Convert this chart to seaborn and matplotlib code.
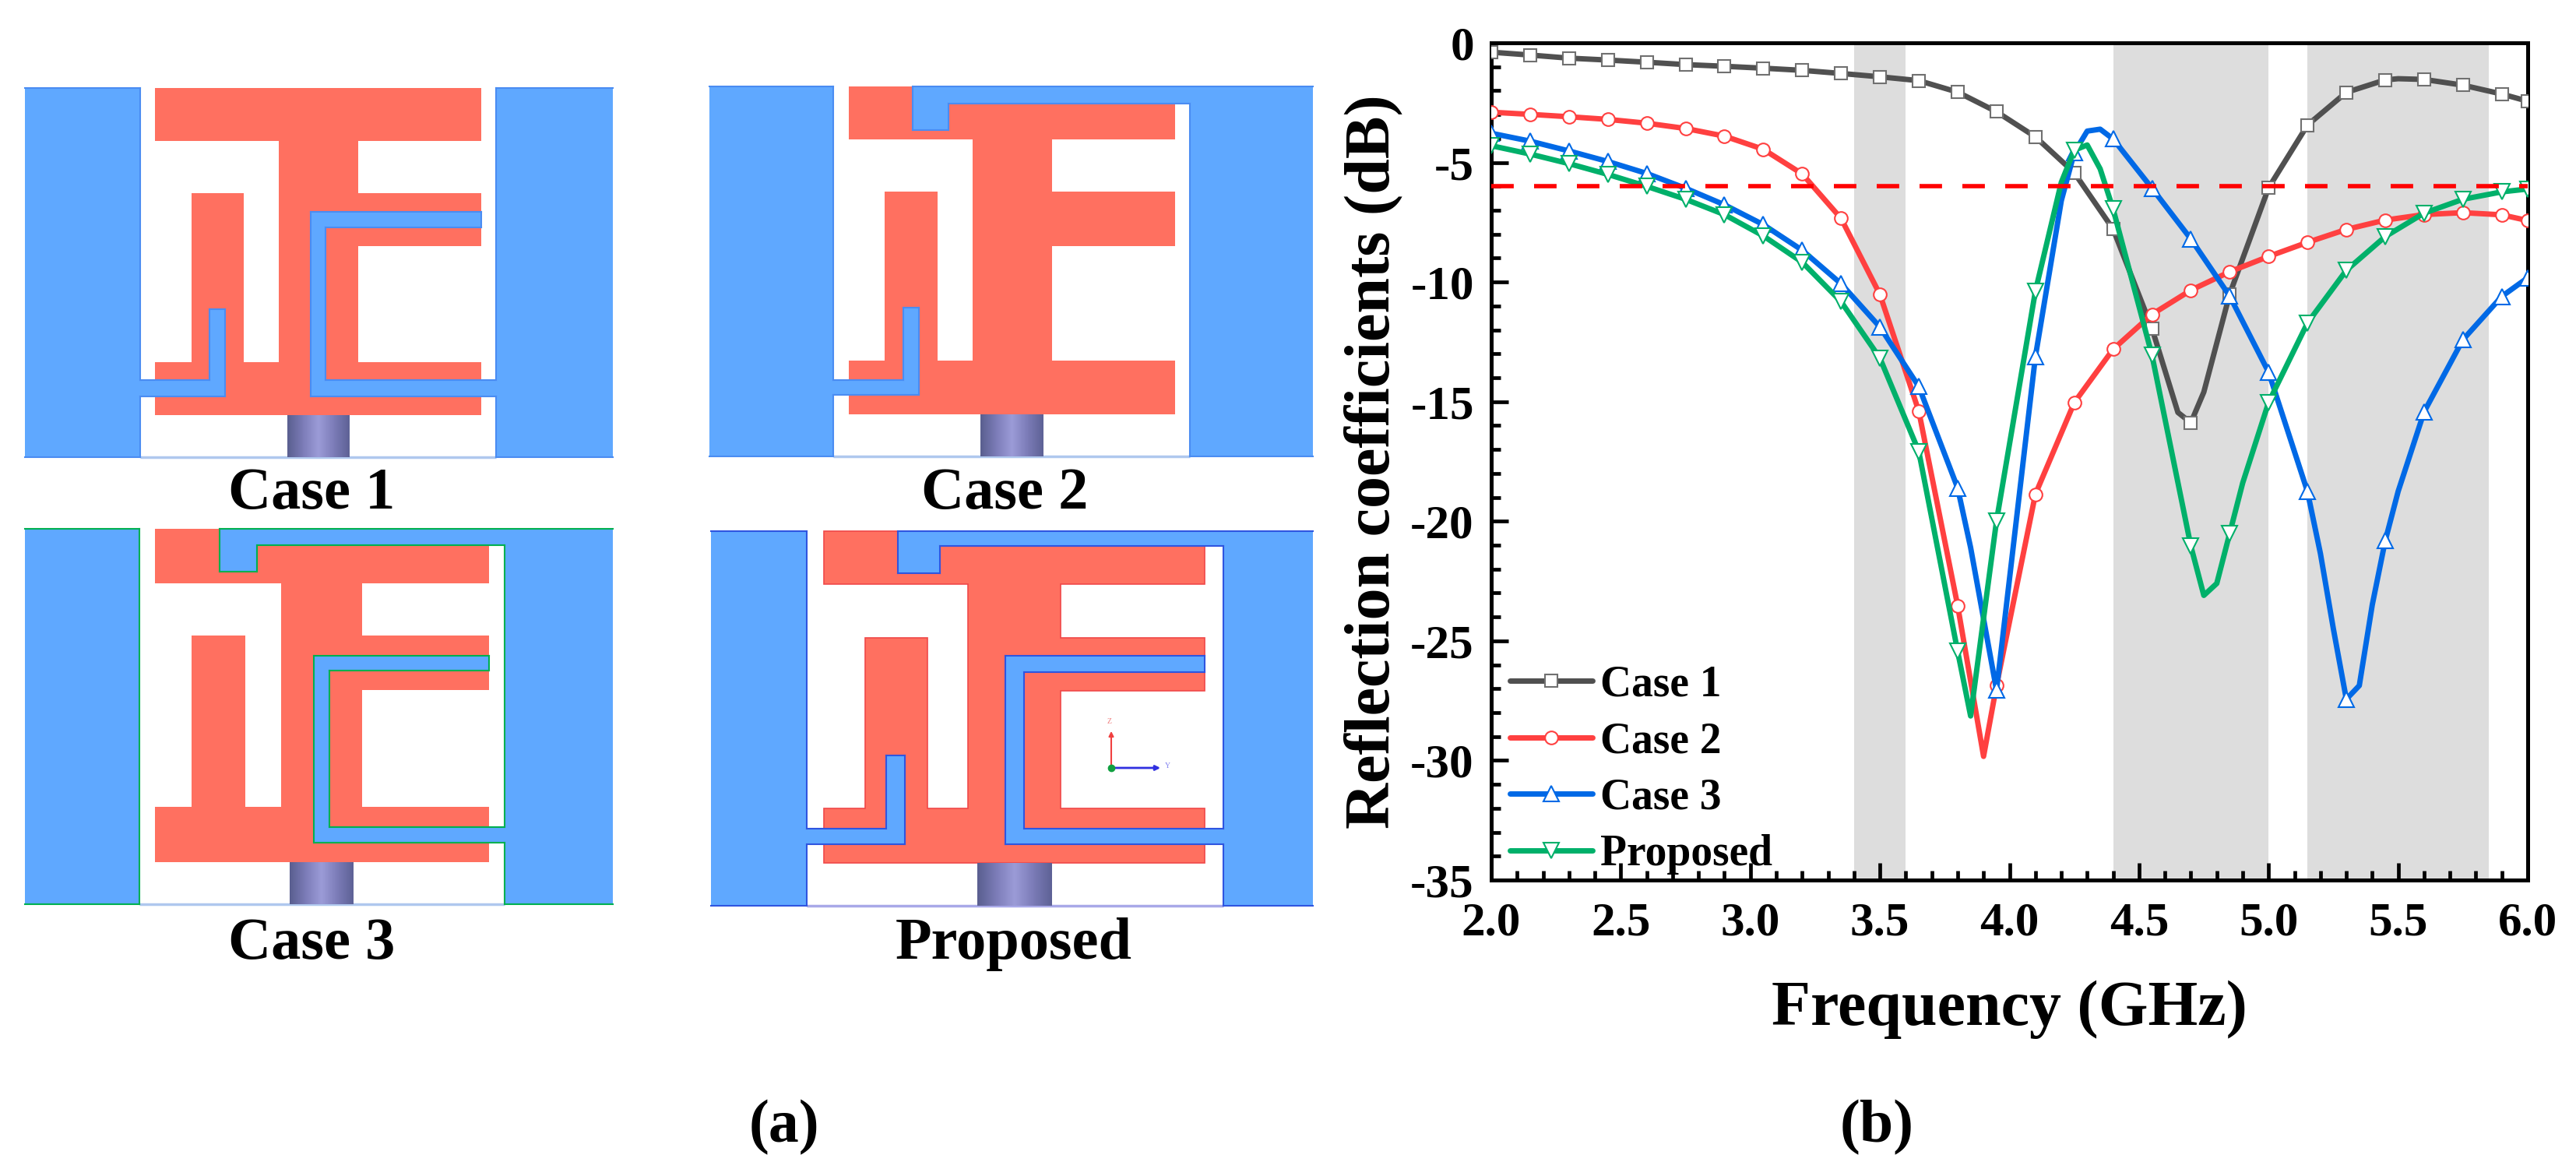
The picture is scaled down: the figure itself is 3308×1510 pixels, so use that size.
import numpy as np
import pandas as pd
import seaborn as sns
import matplotlib
matplotlib.use("Agg")
import matplotlib.pyplot as plt
from matplotlib.colors import LinearSegmentedColormap
from matplotlib.ticker import MultipleLocator

# ---------- data ----------
mark_freq = [round(2 + 0.15 * k, 2) for k in range(27)] + [6.0]

f_case1 = [2.0,2.15,2.3,2.45,2.6,2.75,2.9,3.05,3.2,3.35,3.5,3.65,3.8,3.95,4.1,4.25,4.4,4.55,4.65,4.7,4.75,4.85,5.0,5.15,5.3,5.45,5.5,5.6,5.75,5.9,6.0]
v_case1 = [-0.39,-0.51,-0.64,-0.72,-0.81,-0.91,-0.98,-1.06,-1.15,-1.28,-1.42,-1.58,-2.06,-2.88,-3.93,-5.43,-7.79,-11.94,-15.45,-15.88,-14.6,-10.5,-6.06,-3.44,-2.07,-1.55,-1.5,-1.53,-1.77,-2.14,-2.44]

f_case2 = [2.0,2.15,2.3,2.45,2.6,2.75,2.9,3.05,3.2,3.35,3.5,3.65,3.8,3.9,3.95,4.1,4.25,4.4,4.55,4.7,4.85,5.0,5.15,5.3,5.45,5.6,5.75,5.9,6.0]
v_case2 = [-2.9,-2.99,-3.09,-3.2,-3.36,-3.58,-3.9,-4.45,-5.48,-7.34,-10.52,-15.4,-23.53,-29.83,-26.87,-18.87,-15.04,-12.81,-11.35,-10.34,-9.57,-8.93,-8.34,-7.8,-7.41,-7.18,-7.1,-7.19,-7.43]

f_case3 = [2.0,2.15,2.3,2.45,2.6,2.75,2.9,3.05,3.2,3.35,3.5,3.65,3.8,3.85,3.95,4.1,4.2,4.25,4.3,4.35,4.4,4.55,4.7,4.85,5.0,5.15,5.2,5.25,5.3,5.35,5.4,5.45,5.5,5.6,5.75,5.9,6.0]
v_case3 = [-3.78,-4.11,-4.52,-4.96,-5.46,-6.08,-6.77,-7.6,-8.67,-10.07,-11.88,-14.37,-18.61,-21.1,-27.06,-13.12,-6.6,-4.59,-3.69,-3.61,-4.02,-6.08,-8.2,-10.59,-13.77,-18.76,-21.35,-24.5,-27.44,-26.87,-23.5,-20.82,-18.75,-15.43,-12.41,-10.6,-9.82]

f_prop = [2.0,2.15,2.3,2.45,2.6,2.75,2.9,3.05,3.2,3.35,3.5,3.65,3.8,3.85,3.95,4.1,4.2,4.25,4.3,4.35,4.4,4.55,4.7,4.75,4.8,4.85,4.9,5.0,5.15,5.3,5.45,5.6,5.75,5.9,6.0]
v_prop = [-4.3,-4.65,-5.05,-5.5,-6.0,-6.54,-7.18,-8.07,-9.17,-10.82,-13.18,-17.08,-25.44,-28.14,-19.98,-10.38,-5.83,-4.49,-4.27,-5.27,-6.95,-13.06,-21.04,-23.1,-22.6,-20.5,-18.4,-15.03,-11.71,-9.51,-8.1,-7.12,-6.54,-6.23,-6.11]

bands = [(3.4, 3.6), (4.4, 5.0), (5.15, 5.85)]
threshold = -6
series = [
    ("Case 1", f_case1, v_case1, "#505050", "s", "#707070", 12),
    ("Case 2", f_case2, v_case2, "#FF4040", "o", "#FF4040", 12),
    ("Case 3", f_case3, v_case3, "#0069E6", "^", "#0069E6", 14),
    ("Proposed", f_prop, v_prop, "#00B06A", "v", "#00B06A", 14),
]

# ---------- schematic outlines, in picture pixels ----------
def red_shape(x1, x2, top, tb, sl, sr, a1, a2, lb1, lb2, st1, st2):
    return [(x1,top),(x2,top),(x2,tb),(sr,tb),(sr,a1),(x2,a1),(x2,a2),(sr,a2),(sr,lb1),(x2,lb1),
            (x2,lb2),(x1,lb2),(x1,lb1),(st1,lb1),(st1,a1),(st2,a1),(st2,lb1),(sl,lb1),(sl,tb),(x1,tb)]

panels = [
    dict(caption="Case 1", cx=400, base=653, edge="#4A8CF2", red_edge=None, bottom="#AFC8EE", top=113, bot=587,
         red=red_shape(199,618,113,181,358,460,248,316,465,533,245.5,313),
         blue=[[(32,113),(180,113),(180,488),(269,488),(269,397),(289,397),(289,509),(180,509),(180,587),(32,587)],
               [(399,272),(618,272),(618,292),(418,292),(418,488),(637,488),(637,113),(787,113),(787,587),(637,587),(637,509),(399,509)]],
         feed=(369,449,533,587), gap=(180,637)),
    dict(caption="Case 2", cx=1290, base=653, edge="#4A8CF2", red_edge=None, bottom="#AFC8EE", top=111, bot=586,
         red=red_shape(1090,1509,111,179,1249,1350.5,246,316,463,532,1136,1204),
         blue=[[(911,111),(1070,111),(1070,488),(1160,488),(1160,395),(1180,395),(1180,507),(1070,507),(1070,586),(911,586)],
               [(1172,111),(1686,111),(1686,586),(1528,586),(1528,133),(1218,133),(1218,167),(1172,167)]],
         feed=(1259,1340,532,586), gap=(1070,1528)),
    dict(caption="Case 3", cx=400, base=1231, edge="#00B050", red_edge=None, bottom="#AFC8EE", top=679, bot=1161,
         red=red_shape(199,628,679,749,361,465,816,886,1036,1107,245.5,315),
         blue=[[(32,679),(179,679),(179,1161),(32,1161)],
               [(282,679),(787,679),(787,1161),(648,1161),(648,1082),(403,1082),(403,841.5),(628,841.5),(628,861),(423,861),(423,1062),(648,1062),(648,699.5),(329.5,699.5),(329.5,734),(282,734)]],
         feed=(372,454,1107,1161), gap=(179,648)),
    dict(caption="Proposed", cx=1302, base=1231, edge="#2F55E0", red_edge="#F04848", bottom="#A8A8E8", top=682, bot=1163,
         red=red_shape(1058,1547,682,750,1243,1362,819,887,1038,1108,1111,1191),
         blue=[[(913,682),(1036,682),(1036,1064),(1138,1064),(1138,970),(1162,970),(1162,1083.5),(1036,1083.5),(1036,1163),(913,1163)],
               [(1153,682),(1686,682),(1686,1163),(1570.5,1163),(1570.5,1083.5),(1291,1083.5),(1291,842),(1547,842),(1547,863),(1315,863),(1315,1064),(1570.5,1064),(1570.5,701),(1207,701),(1207,736),(1153,736)]],
         feed=(1254.5,1350,1108,1163), gap=(1036,1570.5)),
]

# ---------- theme ----------
sns.set_theme(style="ticks")
plt.rcParams["font.family"] = ["Liberation Serif", "DejaVu Serif"]
plt.rcParams["font.weight"] = "bold"
plt.rcParams["axes.unicode_minus"] = False
plt.rcParams["text.color"] = "black"
plt.rcParams["axes.labelcolor"] = "black"
plt.rcParams["xtick.color"] = "black"
plt.rcParams["ytick.color"] = "black"

W, H = 3308, 1510
fig = plt.figure(figsize=(W / 100, H / 100), dpi=100, facecolor="white")

# ---------- left: schematics ----------
pic = fig.add_axes([0, 0, 1, 1], zorder=0)
pic.axis("off")
feed_cmap = LinearSegmentedColormap.from_list("feed", ["#5A5F90", "#7C7CB8", "#9C9CD8", "#7C7CB8", "#5E6296"])
grad = np.linspace(0, 1, 64)[None, :]
for p in panels:
    pic.plot(p["gap"], [p["bot"], p["bot"]], color=p["bottom"], lw=2.5, solid_capstyle="butt", zorder=1)
    xs, ys = zip(*p["red"])
    if p["red_edge"]:
        pic.fill(xs, ys, facecolor="#FF7060", edgecolor=p["red_edge"], lw=1.2, zorder=2)
    else:
        pic.fill(xs, ys, color="#FF7060", lw=0, zorder=2)
    all_x = [pt[0] for poly in p["blue"] for pt in poly]
    for poly in p["blue"]:
        xs, ys = zip(*poly)
        pic.fill(xs, ys, color="#5FA8FF", lw=0, zorder=3)
        # outline every side but the outer ones of the ground plane
        for (xa, ya), (xb, yb) in zip(poly, poly[1:] + poly[:1]):
            if xa == xb and xa in (min(all_x), max(all_x)):
                continue
            pic.plot([xa, xb], [ya, yb], color=p["edge"], lw=1.5, solid_capstyle="projecting", zorder=3.5)
    x0, x1, y0, y1 = p["feed"]
    pic.imshow(grad, extent=(x0, x1, y1, y0), cmap=feed_cmap, aspect="auto", zorder=4)
    pic.text(p["cx"], p["base"], p["caption"], fontsize=55, ha="center", va="baseline")
pic.set_xlim(0, W)
pic.set_ylim(H, 0)
# coordinate triad in the last panel
pic.annotate("", xy=(1427, 936), xytext=(1427, 986), arrowprops=dict(arrowstyle="-|>", color="#F04040", lw=1.5, mutation_scale=9), zorder=5)
pic.annotate("", xy=(1493, 986), xytext=(1427, 986), arrowprops=dict(arrowstyle="-|>", color="#3030E0", lw=2, mutation_scale=9), zorder=5)
pic.plot([1427], [986], "o", color="#10A040", ms=6, zorder=6)
pic.text(1425, 931, "Z", fontsize=7, color="#F08080", ha="center", va="bottom", fontweight="normal")
pic.text(1496, 984, "Y", fontsize=7, color="#8080F0", ha="left", va="center", fontweight="normal")
pic.text(1007, 1448, "(a)", fontsize=56, ha="center", va="center", fontweight="bold")
pic.text(2410, 1448, "(b)", fontsize=56, ha="center", va="center", fontweight="bold")

# ---------- right: curves ----------
L, R, T, B = 1915, 3246, 55, 1130
ax = fig.add_axes([L / W, 1 - B / H, (R - L) / W, (B - T) / H], zorder=2)
ax.patch.set_alpha(0)
for lo, hi in bands:
    ax.axvspan(lo, hi, color="#DDDDDD", lw=0, zorder=0)

for name, fx, vy, col, mk, mec, ms in series:
    idx = [i for i, f in enumerate(fx) if round(f, 2) in mark_freq]
    df = pd.DataFrame({"f": fx, "v": vy})
    sns.lineplot(data=df, x="f", y="v", ax=ax, color=col, lw=5, label=name,
                 marker=mk, markevery=idx, ms=ms, mfc="white", mec=mec, mew=1.5,
                 estimator=None, sort=False, solid_capstyle="round", solid_joinstyle="round", zorder=3)

ax.plot([2, 6], [threshold, threshold], color="#FF0000", lw=4, ls=(0, (5.2, 4.7)), zorder=4)

ax.set_xlim(2, 6)
ax.set_ylim(-35, 0)
ax.xaxis.set_major_locator(MultipleLocator(0.5))
ax.xaxis.set_minor_locator(MultipleLocator(0.1))
ax.yaxis.set_major_locator(MultipleLocator(5))
ax.yaxis.set_minor_locator(MultipleLocator(1))
ax.xaxis.set_major_formatter(lambda v, pos: f"{v:.1f}")
ax.yaxis.set_major_formatter(lambda v, pos: f"{v:.0f}")
ax.tick_params(which="major", direction="in", length=16, width=3.4, labelsize=44, pad=16, top=False, right=False)
ax.tick_params(which="minor", direction="in", length=8.5, width=3.4, top=False, right=False)
ax.tick_params(axis="x", which="major", pad=20)
for s in ax.spines.values():
    s.set_visible(True)
    s.set_linewidth(3.6)
    s.set_color("black")
ax.set_xlabel("Frequency (GHz)", fontsize=59, labelpad=32, fontweight="bold")
ax.set_ylabel("Reflection coefficients (dB)", fontsize=59, labelpad=7, fontweight="bold")

leg = ax.legend(loc="lower left", bbox_to_anchor=(0.01, -0.004), frameon=False, fontsize=40,
                handlelength=1.9, handletextpad=0.18, labelspacing=0.37, borderpad=0.1, borderaxespad=0.1)

fig.savefig("out.png", dpi=100, facecolor="white")
